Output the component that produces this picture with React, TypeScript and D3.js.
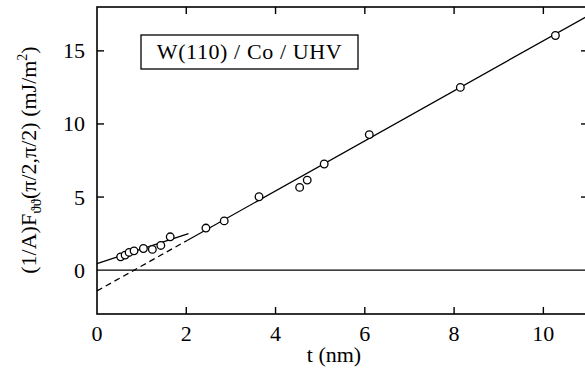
import React, { useEffect, useRef } from 'react'
import { select, scaleLinear, line } from 'd3'

// measured points: thickness t (nm) vs anisotropy (mJ/m^2)
const tValues = [0.53, 0.63, 0.72, 0.83, 1.04, 1.24, 1.43, 1.64, 2.44, 2.85, 3.63, 4.54, 4.71, 5.09, 6.1, 8.14, 10.27]
const fValues = [0.91, 1.03, 1.21, 1.32, 1.48, 1.42, 1.69, 2.28, 2.88, 3.37, 5.02, 5.66, 6.16, 7.26, 9.27, 12.5, 16.05]

// fitted lines [t, F]
const thinFit = [[0, 0.45], [2.05, 2.5]]
const thickFitDashed = [[0, -1.42], [2.02, 2.03]]
const thickFitSolid = [[2.02, 2.03], [11, 17.4]]

const xTicks = [0, 2, 4, 6, 8, 10]
const yTicks = [0, 5, 10, 15]
const legendText = 'W(110) / Co / UHV'

const W = 585
const H = 370
const FONT = '"Liberation Serif", "DejaVu Serif", serif'

const App = () => {
    const svgRef = useRef(null)

    useEffect(() => {
        const svg = select(svgRef.current)
        svg.selectAll('*').remove()

        const x = scaleLinear().domain([0, 11]).range([97, 588])
        const y = scaleLinear().domain([-3, 18]).range([314, 7])
        const tick = 7

        const lineGen = line().x(d => x(d[0])).y(d => y(d[1]))

        // frame
        svg.append('rect')
            .attr('x', x(0)).attr('y', y(18))
            .attr('width', x(11) - x(0)).attr('height', y(-3) - y(18))
            .attr('fill', 'none').attr('stroke', '#000').attr('stroke-width', 1.6)

        // zero line
        svg.append('line')
            .attr('x1', x(0)).attr('x2', x(11))
            .attr('y1', y(0)).attr('y2', y(0))
            .attr('stroke', '#000').attr('stroke-width', 1.3)

        // x ticks top + bottom, inward
        xTicks.filter(d => d > 0).forEach(d => {
            svg.append('line').attr('x1', x(d)).attr('x2', x(d))
                .attr('y1', y(-3)).attr('y2', y(-3) - tick)
                .attr('stroke', '#000').attr('stroke-width', 1.4)
            svg.append('line').attr('x1', x(d)).attr('x2', x(d))
                .attr('y1', y(18)).attr('y2', y(18) + tick)
                .attr('stroke', '#000').attr('stroke-width', 1.4)
        })
        svg.selectAll('.xlab').data(xTicks).join('text')
            .attr('class', 'xlab')
            .attr('x', d => x(d)).attr('y', 341)
            .attr('text-anchor', 'middle')
            .attr('font-family', FONT).attr('font-size', 22)
            .text(d => d)

        // y ticks left + right, inward
        yTicks.filter(d => d > 0).forEach(d => {
            svg.append('line').attr('x1', x(0)).attr('x2', x(0) + tick)
                .attr('y1', y(d)).attr('y2', y(d))
                .attr('stroke', '#000').attr('stroke-width', 1.4)
            svg.append('line').attr('x1', x(11)).attr('x2', x(11) - tick)
                .attr('y1', y(d)).attr('y2', y(d))
                .attr('stroke', '#000').attr('stroke-width', 1.4)
        })
        svg.selectAll('.ylab').data(yTicks).join('text')
            .attr('class', 'ylab')
            .attr('x', 85).attr('y', d => y(d) + 7.5)
            .attr('text-anchor', 'end')
            .attr('font-family', FONT).attr('font-size', 22)
            .text(d => d)

        // fit lines
        svg.append('path').attr('d', lineGen(thinFit))
            .attr('fill', 'none').attr('stroke', '#000').attr('stroke-width', 1.3)
        svg.append('path').attr('d', lineGen(thickFitDashed))
            .attr('fill', 'none').attr('stroke', '#000').attr('stroke-width', 1.3)
            .attr('stroke-dasharray', '6,4')
        svg.append('path').attr('d', lineGen(thickFitSolid))
            .attr('fill', 'none').attr('stroke', '#000').attr('stroke-width', 1.3)

        // points
        svg.selectAll('.pt').data(tValues).join('circle')
            .attr('class', 'pt')
            .attr('cx', d => x(d)).attr('cy', (d, i) => y(fValues[i]))
            .attr('r', 3.8)
            .attr('fill', '#fff').attr('stroke', '#000').attr('stroke-width', 1.3)

        // legend box
        svg.append('rect')
            .attr('x', 141).attr('y', 35).attr('width', 217).attr('height', 34)
            .attr('fill', '#fff').attr('stroke', '#000').attr('stroke-width', 1.3)
        svg.append('text')
            .attr('x', 249.5).attr('y', 59)
            .attr('text-anchor', 'middle')
            .attr('font-family', FONT).attr('font-size', 22)
            .attr('letter-spacing', 0.6)
            .text(legendText)

        // x axis title
        svg.append('text')
            .attr('x', 334).attr('y', 362)
            .attr('text-anchor', 'middle')
            .attr('font-family', FONT).attr('font-size', 22)
            .text('t (nm)')

        // y axis title with sub/superscript
        const yt = svg.append('text')
            .attr('transform', 'translate(36,160) rotate(-90)')
            .attr('text-anchor', 'middle')
            .attr('font-family', FONT).attr('font-size', 22)
        yt.append('tspan').text('(1/A)F')
        yt.append('tspan').attr('font-size', 15).attr('dy', 5).text('ϑϑ')
        yt.append('tspan').attr('dy', -5).text('(π/2,π/2) (mJ/m')
        yt.append('tspan').attr('font-size', 14).attr('dy', -9).text('2')
        yt.append('tspan').attr('dy', 9).text(')')
    }, [])

    return (
        <svg ref={svgRef} width={W} height={H}
            style={{ position: 'absolute', left: 0, top: 0, background: '#fff' }} />
    )
}

export default App
